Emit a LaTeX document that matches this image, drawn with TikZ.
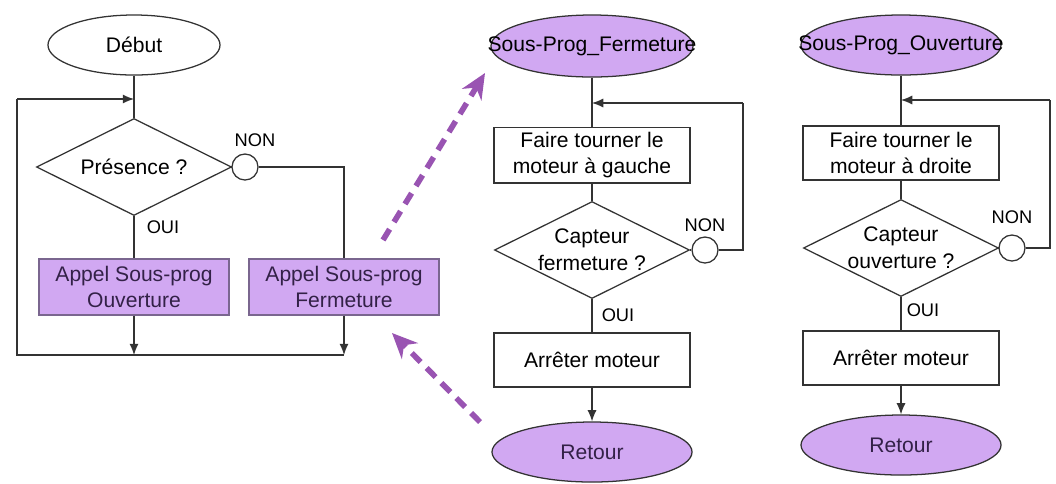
\documentclass[tikz,border=0pt]{standalone}
\definecolor{lavender}{rgb}{0.82, 0.66, 0.95}
\definecolor{plum}{rgb}{0.60, 0.33, 0.70}
\definecolor{greyline}{rgb}{0.20, 0.20, 0.20}
\definecolor{boxedge}{rgb}{0.48, 0.40, 0.56}
\definecolor{ink}{rgb}{0.20, 0.13, 0.28}
\usepackage{fontspec}
\setmainfont{Liberation Sans}
\usepackage{xcolor}
\usepackage{tikz}
\usetikzlibrary{shapes.geometric, positioning}
\usetikzlibrary{arrows.meta}

\begin{document}
\begin{tikzpicture}[>={Latex[length=8pt,width=6.5pt]}, x=0.025cm, y=-0.025cm,
	line width=0.9pt, font=\fontsize{15}{19}\selectfont]
	\useasboundingbox (0,0) rectangle (1056,483);
	
	% ------------------------------------------------------------------
	% STYLE DEFINITIONS
	% ------------------------------------------------------------------
	\tikzset{
		term/.style = {ellipse, draw=greyline, fill=lavender, text=ink, inner sep=0pt,
			minimum width=5cm, minimum height=1.5cm},
		test/.style = {diamond, draw=greyline, fill=white, inner sep=0pt,
			minimum width=4.875cm, minimum height=2.425cm},
		task/.style = {rectangle, draw=greyline, align=center,
			minimum width=4.9cm, minimum height=1.35cm},
		call/.style = {task, fill=lavender, draw=boxedge, text=ink,
			minimum width=4.75cm, minimum height=1.4cm},
		knot/.style = {circle, draw=greyline, fill=white, inner sep=0pt, minimum size=0.65cm},
		tag/.style  = {font=\fontsize{13}{15}\selectfont},
		flow/.style = {draw=greyline},
		jump/.style = {draw=plum, line width=4pt, dash pattern=on 9pt off 6pt,
			-{Stealth[length=18pt,width=16pt]}},
	}
	
	% ------------------------------------------------------------------
	% MAIN PROGRAM
	% ------------------------------------------------------------------
	\node[term, fill=white, text=black, minimum width=4.3cm] (debut) at (134,45) {Début};
	\node[test, label=center:Présence ?] (presence) at (134,167) {};
	\node[knot] (non1) at (245,167) {};
	\node[tag] (nonA) at (255,140) {NON};
	\node[tag] (ouiA) at (163,227) {OUI};
	\node[call] (appelO) at (134,287) {Appel Sous-prog\\Ouverture};
	\node[call] (appelF) at (344,287) {Appel Sous-prog\\Fermeture};
	
	\coordinate (j1) at (134,99);
	\coordinate (c2) at (17,99);
	\coordinate (c1) at (17,355);
	\coordinate (m1) at (134,355);
	\coordinate (m2) at (344,355);
	
	\draw[flow] (debut) -- (presence);
	\draw[flow,->] (c2) -- (j1);
	\draw[flow] (presence) -- (non1);
	\draw[flow] (non1) -| (appelF);
	\draw[flow] (presence) -- (appelO);
	\draw[flow,->] (appelO) -- (m1);
	\draw[flow,->] (appelF) -- (m2);
	\draw[flow] (m2) -- (c1) -- (c2);
	
	% ------------------------------------------------------------------
	% SOUS-PROG FERMETURE
	% ------------------------------------------------------------------
	\node[term, minimum width=5.05cm, minimum height=1.55cm,
		label=center:Sous-Prog\_Fermeture] (spF) at (592,46) {};
	\node[task] (tournerG) at (592,155) {Faire tourner le\\moteur à gauche};
	\node[test, label={[align=center]center:Capteur\\fermeture ?}] (capF) at (592,250) {};
	\node[knot] (non2) at (705,250) {};
	\node[tag] (nonB) at (705,225) {NON};
	\node[tag] (ouiB) at (618,315) {OUI};
	\node[task] (arretF) at (592,360) {Arrêter moteur};
	\node[term] (retF) at (592,452) {Retour};
	
	\coordinate (j2) at (592,103);
	\coordinate (k1) at (743,250);
	\coordinate (k2) at (743,103);
	
	\draw[flow] (spF) -- (tournerG);
	\draw[flow,->] (k2) -- (j2);
	\draw[flow] (tournerG) -- (capF);
	\draw[flow] (capF) -- (non2);
	\draw[flow] (non2) -- (k1) -- (k2);
	\draw[flow] (capF) -- (arretF);
	\draw[flow,->] (arretF) -- (retF);
	
	% ------------------------------------------------------------------
	% SOUS-PROG OUVERTURE
	% ------------------------------------------------------------------
	\node[term, label=center:Sous-Prog\_Ouverture] (spO) at (901,45) {};
	\node[task] (tournerD) at (901,153) {Faire tourner le\\moteur à droite};
	\node[test, label={[align=center]center:Capteur\\ouverture ?}] (capO) at (901,248) {};
	\node[knot] (non3) at (1012,248) {};
	\node[tag] (nonC) at (1012,217) {NON};
	\node[tag] (ouiC) at (923,310) {OUI};
	\node[task] (arretO) at (901,358) {Arrêter moteur};
	\node[term] (retO) at (901,445) {Retour};
	
	\coordinate (j3) at (901,100);
	\coordinate (k3) at (1050,248);
	\coordinate (k4) at (1050,100);
	
	\draw[flow] (spO) -- (tournerD);
	\draw[flow,->] (k4) -- (j3);
	\draw[flow] (tournerD) -- (capO);
	\draw[flow] (capO) -- (non3);
	\draw[flow] (non3) -- (k3) -- (k4);
	\draw[flow] (capO) -- (arretO);
	\draw[flow,->] (arretO) -- (retO);
	
	% ------------------------------------------------------------------
	% CALL & RETURN
	% ------------------------------------------------------------------
	\coordinate (d1a) at (383,240);
	\coordinate (d1b) at (485,73);
	\coordinate (d2a) at (480,422);
	\coordinate (d2b) at (392,333);
	\draw[jump] (d1a) -- (d1b);
	\draw[jump] (d2a) -- (d2b);
	
\end{tikzpicture}
\end{document}
